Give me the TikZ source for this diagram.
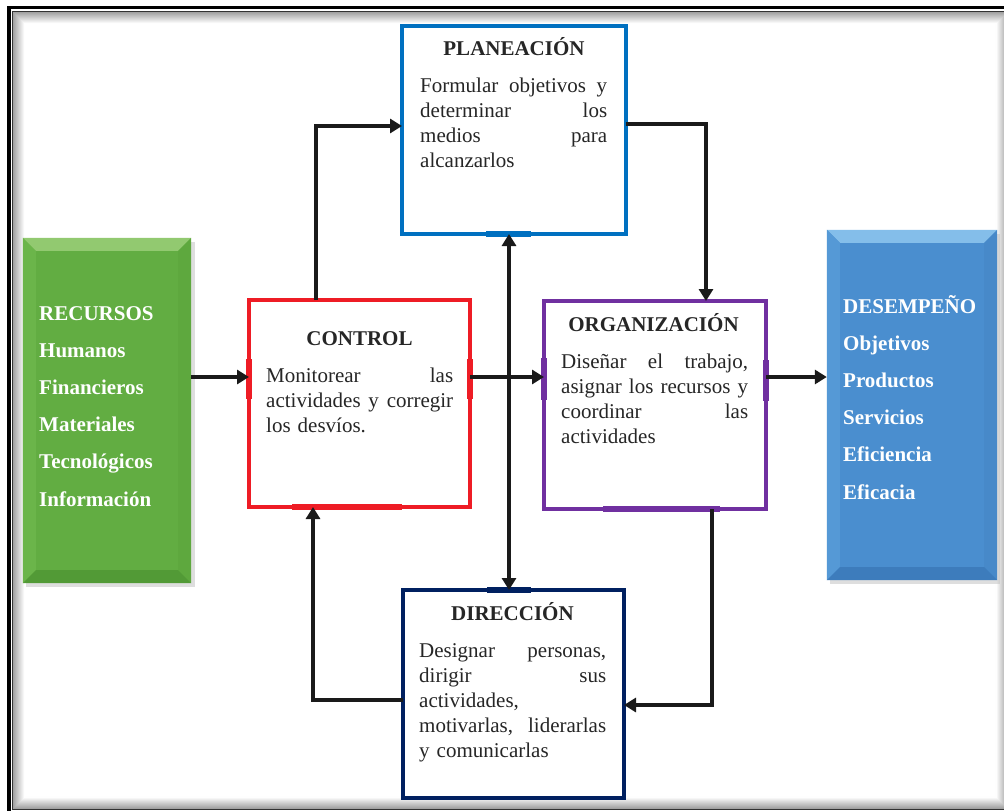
\documentclass[tikz,border=0pt]{standalone}
\usepackage{fontspec}
\setmainfont{Liberation Serif}
\usetikzlibrary{arrows.meta,calc}
\definecolor{cplan}{HTML}{0070C0}
\definecolor{cctl}{HTML}{EE1C25}
\definecolor{corg}{HTML}{7030A0}
\definecolor{cdir}{HTML}{002060}
\definecolor{ctext}{HTML}{262626}
\definecolor{conn}{HTML}{1A1A1A}
\definecolor{gmain}{HTML}{62AD42}
\definecolor{gtop}{HTML}{92C970}
\definecolor{gleft}{HTML}{6BB54A}
\definecolor{gright}{HTML}{5EA83E}
\definecolor{gbot}{HTML}{529A36}
\definecolor{bmain}{HTML}{4A8ECF}
\definecolor{btop}{HTML}{84BEEA}
\definecolor{bleft}{HTML}{5599D6}
\definecolor{bright}{HTML}{4789C9}
\definecolor{bbot}{HTML}{3D7CBC}
\newcommand\jl[1]{\leavevmode\hbox to 187pt{#1}}
\tikzset{
  box/.style={draw=#1, line width=3.5pt, inner sep=0pt, outer sep=0pt, fill=white},
  seg/.style={draw=#1, line width=6.5pt, line cap=butt},
  body/.style={anchor=base west, inner sep=0pt, text width=190pt, align=left,
               font=\fontsize{21}{25}\selectfont, text=ctext},
  ttl/.style={anchor=base, inner sep=0pt, font=\bfseries\fontsize{21}{25}\selectfont, text=ctext},
  lst/.style={anchor=base west, inner sep=0pt, text width=160pt, align=left,
              font=\bfseries\fontsize{21}{37.2}\selectfont, text=white},
  arr/.style={draw=conn, line width=3.5pt, line join=miter, -{Triangle[length=12pt,width=14pt]}},
  arr2/.style={draw=conn, line width=3.5pt, {Triangle[length=12pt,width=14pt]}-{Triangle[length=12pt,width=14pt]}},
}
\begin{document}
\begin{tikzpicture}[x=1pt,y=-1pt]
\useasboundingbox (0,0) rectangle (1004,811);
\clip (0,0) rectangle (1004,811);
\fill[white] (0,0) rectangle (1004,811);
% frame
\draw[line width=3.5pt, black] (9,7.5) rectangle (1020,822);
\draw[line width=1.2pt, black!80] (12.5,11.5) rectangle (1008,809);
\foreach \k in {1,...,12}{
  \pgfmathsetmacro{\p}{max(40-3.3*\k,0)}
  \draw[line width=1.05pt, black!\p] (12.5+\k,11.5+\k) rectangle (1008-\k,809-\k);
}
% side boxes
\fill[black!25, opacity=0.5] (26,242) rectangle (195,587);
\node[fill=gmain, inner sep=0pt, minimum width=168pt, minimum height=345pt] (rec) at (107,410.5) {};
\fill[gtop] (rec.north west) -- (rec.north east) -- ($(rec.north east)+(-13,13)$) -- ($(rec.north west)+(13,13)$) -- cycle;
\fill[gleft] (rec.north west) -- ($(rec.north west)+(13,13)$) -- ($(rec.south west)+(13,-13)$) -- (rec.south west) -- cycle;
\fill[gright] (rec.north east) -- ($(rec.north east)+(-13,13)$) -- ($(rec.south east)+(-13,-13)$) -- (rec.south east) -- cycle;
\fill[gbot] (rec.south west) -- ($(rec.south west)+(13,-13)$) -- ($(rec.south east)+(-13,-13)$) -- (rec.south east) -- cycle;
\fill[black!25, opacity=0.5] (830,234) rectangle (1000,584);
\node[fill=bmain, inner sep=0pt, minimum width=170pt, minimum height=350pt] (des) at (912,405) {};
\fill[btop] (des.north west) -- (des.north east) -- ($(des.north east)+(-13,13)$) -- ($(des.north west)+(13,13)$) -- cycle;
\fill[bleft] (des.north west) -- ($(des.north west)+(13,13)$) -- ($(des.south west)+(13,-13)$) -- (des.south west) -- cycle;
\fill[bright] (des.north east) -- ($(des.north east)+(-13,13)$) -- ($(des.south east)+(-13,-13)$) -- (des.south east) -- cycle;
\fill[bbot] (des.south west) -- ($(des.south west)+(13,-13)$) -- ($(des.south east)+(-13,-13)$) -- (des.south east) -- cycle;
\node[lst] (rectx) at (39,320) {RECURSOS\\Humanos\\Financieros\\Materiales\\Tecnológicos\\Información};
\node[lst] (destx) at (843,313) {DESEMPEÑO\\Objetivos\\Productos\\Servicios\\Eficiencia\\Eficacia};
% main boxes
\node[box=cplan, minimum width=224pt, minimum height=208pt] (plan) at (514,130) {};
\node[box=cctl, minimum width=221pt, minimum height=207pt] (ctl) at (359.5,403.5) {};
\node[box=corg, minimum width=222pt, minimum height=208pt] (org) at (655,405) {};
\node[box=cdir, minimum width=221pt, minimum height=208pt] (dir) at (513.5,694) {};
% thick segments
\draw[seg=cplan] (486,0 |- plan.south) -- (531,0 |- plan.south);
\draw[seg=cctl] (ctl.west |- 0,359) -- (ctl.west |- 0,399);
\draw[seg=cctl] (ctl.east |- 0,359) -- (ctl.east |- 0,399);
\draw[seg=cctl] (292,0 |- ctl.south) -- (402,0 |- ctl.south);
\draw[seg=corg] (org.west |- 0,358) -- (org.west |- 0,400);
\draw[seg=corg] (org.east |- 0,360) -- (org.east |- 0,401);
\draw[seg=corg] (603,0 |- org.south) -- (720,0 |- org.south);
\draw[seg=cdir] (487,0 |- dir.north) -- (531,0 |- dir.north);
% texts
\node[ttl] (plantt) at (514,55) {PLANEACIÓN};
\node[body] (planbd) at (420,92) {\jl{Formular\hfill objetivos\hfill y}\\\jl{determinar\hfill los}\\\jl{medios\hfill para}\\alcanzarlos};
\node[ttl] (ctltt) at (359.5,345) {CONTROL};
\node[body] (ctlbd) at (266,382) {\jl{Monitorear\hfill las}\\\jl{actividades\hfill y\hfill corregir}\\los desvíos.};
\node[ttl] (orgtt) at (653.5,331) {ORGANIZACIÓN};
\node[body] (orgbd) at (561,368) {\jl{Diseñar\hfill el\hfill trabajo,}\\\jl{asignar\hfill los\hfill recursos\hfill y}\\\jl{coordinar\hfill las}\\actividades};
\node[ttl] (dirtt) at (512.5,620) {DIRECCIÓN};
\node[body] (dirbd) at (419,657) {\jl{Designar\hfill personas,}\\\jl{dirigir\hfill sus}\\actividades,\\\jl{motivarlas,\hfill liderarlas}\\y comunicarlas};
% connectors
\coordinate (yrow) at (0,377);
\draw[arr] (rec.east |- yrow) -- (ctl.west |- yrow);
\draw[arr] (ctl.east |- yrow) -- (org.west |- yrow);
\draw[arr] (org.east |- yrow) -- (des.west |- yrow);
\coordinate (c4) at (316,126);
\draw[arr] (ctl.north -| c4) -- (c4) -- (plan.west |- c4);
\coordinate (c5) at (706,124);
\draw[arr] (plan.east |- c5) -- (c5) -- (org.north -| c5);
\coordinate (c6) at (712,705);
\draw[arr] (org.south -| c6) -- (c6) -- (dir.east |- c6);
\coordinate (c7) at (313,700);
\draw[arr] (dir.west |- c7) -- (c7) -- (ctl.south -| c7);
\coordinate (c8) at (509,0);
\draw[arr2] (plan.south -| c8) -- (dir.north -| c8);
\end{tikzpicture}
\end{document}
